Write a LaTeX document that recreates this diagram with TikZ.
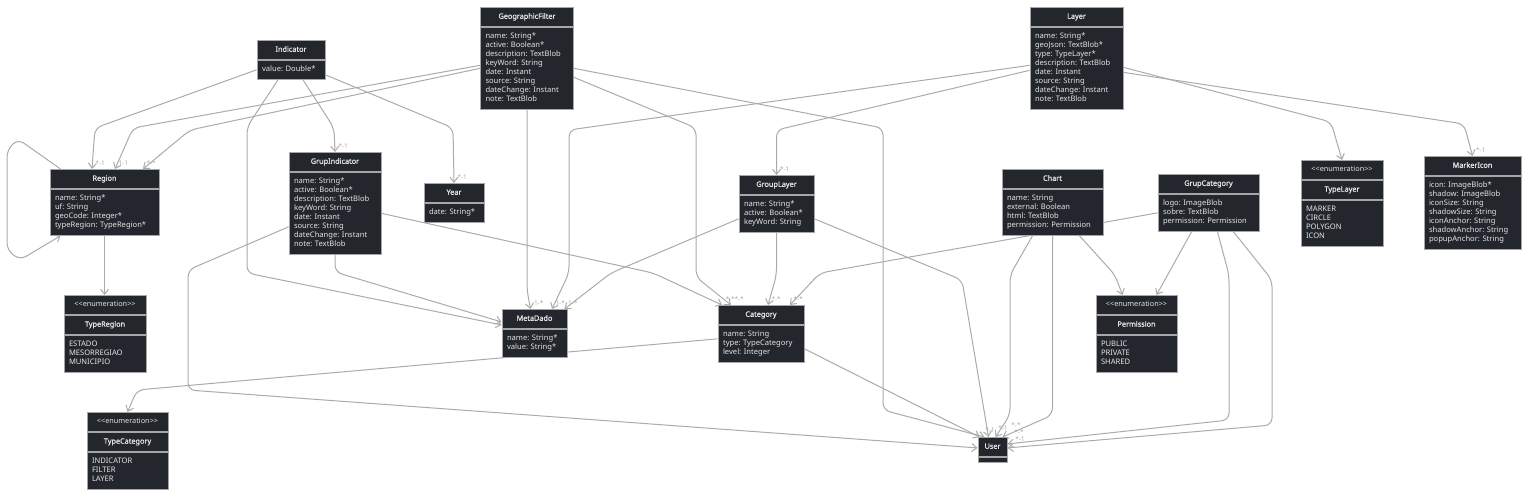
\documentclass[tikz,border=0pt]{standalone}
\usepackage{fontspec}
\setmainfont{Noto Sans}[AutoFakeBold=1.3]
\usetikzlibrary{arrows.meta, positioning, calc, backgrounds}
\definecolor{DiagramFill}{HTML}{23262D}
\definecolor{DiagramBorder}{HTML}{A6A6A6}
\definecolor{DiagramText}{HTML}{E4E4E4}
\definecolor{DiagramLine}{HTML}{ABABAB}
\frenchspacing
\tikzset{
    % class boxes - dark, sharp corners
    classhead/.style={
        rectangle,
        draw=DiagramBorder,
        fill=DiagramFill,
        text=DiagramText,
        line width=0.9pt,
        minimum height=19pt,
        inner sep=0pt,
        anchor=north,
        font=\fontsize{7.3}{9}\selectfont\bfseries
    },
    stereohead/.style={
        classhead,
        font=\fontsize{7.3}{9}\selectfont
    },
    classbody/.style={
        rectangle,
        draw=DiagramBorder,
        fill=DiagramFill,
        text=DiagramText,
        line width=0.9pt,
        inner xsep=5pt,
        inner ysep=5pt,
        anchor=north,
        align=left,
        font=\fontsize{7.6}{9}\selectfont
    },
    % connectors
    assoc/.style={
        -{Straight Barb[length=5pt,width=8pt]},
        draw=DiagramLine,
        line width=1pt,
        rounded corners=7pt
    },
    mult/.style={
        font=\fontsize{6.5}{7}\selectfont,
        text=DiagramLine,
        inner sep=0pt
    },
    multend/.style={
        mult,
        anchor=south west,
        xshift=3pt,
        yshift=3pt
    }
}
\begin{document}
\begin{tikzpicture}[x=1pt, y=-1pt]
    \path[use as bounding box] (0,0) rectangle (1528,494);

    % top row
    \node[classhead, minimum width=68pt] (Indicator) at (291,40) {\strut Indicator};
    \node[classbody, text width=58pt, below=0pt of Indicator] (Indicator-body) {\strut value: Double*\strut};

    \node[classhead, minimum width=93pt] (GeographicFilter) at (527,7) {\strut GeographicFilter};
    \node[classbody, text width=83pt, below=0pt of GeographicFilter] (GeographicFilter-body) {\strut name: String*\\active: Boolean*\\description: TextBlob\\keyWord: String\\date: Instant\\source: String\\dateChange: Instant\\note: TextBlob\strut};

    \node[classhead, minimum width=93pt] (Layer) at (1076.5,7) {\strut Layer};
    \node[classbody, text width=83pt, below=0pt of Layer] (Layer-body) {\strut name: String*\\geoJson: TextBlob*\\type: TypeLayer*\\description: TextBlob\\date: Instant\\source: String\\dateChange: Instant\\note: TextBlob\strut};

    % middle row
    \node[classhead, minimum width=109pt] (Region) at (104.5,169) {\strut Region};
    \node[classbody, text width=99pt, below=0pt of Region] (Region-body) {\strut name: String*\\uf: String\\geoCode: Integer*\\typeRegion: TypeRegion*\strut};

    \node[classhead, minimum width=92pt] (GrupIndicator) at (335,152) {\strut GrupIndicator};
    \node[classbody, text width=82pt, below=0pt of GrupIndicator] (GrupIndicator-body) {\strut name: String*\\active: Boolean*\\description: TextBlob\\keyWord: String\\date: Instant\\source: String\\dateChange: Instant\\note: TextBlob\strut};

    \node[classhead, minimum width=60pt] (Year) at (454,183) {\strut Year};
    \node[classbody, text width=50pt, below=0pt of Year] (Year-body) {\strut date: String*\strut};

    \node[classhead, minimum width=75pt] (GroupLayer) at (776.5,175) {\strut GroupLayer};
    \node[classbody, text width=65pt, below=0pt of GroupLayer] (GroupLayer-body) {\strut name: String*\\active: Boolean*\\keyWord: String\strut};

    \node[classhead, minimum width=101pt] (Chart) at (1052.5,169) {\strut Chart};
    \node[classbody, text width=91pt, below=0pt of Chart] (Chart-body) {\strut name: String\\external: Boolean\\html: TextBlob\\permission: Permission\strut};

    \node[classhead, minimum width=101pt] (GrupCategory) at (1208.5,174) {\strut GrupCategory};
    \node[classbody, text width=91pt, below=0pt of GrupCategory] (GrupCategory-body) {\strut logo: ImageBlob\\sobre: TextBlob\\permission: Permission\strut};

    \node[stereohead, minimum width=82pt] (TypeLayer) at (1342,160) {\strut <{}<enumeration>{}>};
    \node[classhead, minimum width=82pt, below=0pt of TypeLayer] (TypeLayer-name) {\strut TypeLayer};
    \node[classbody, text width=72pt, below=0pt of TypeLayer-name] (TypeLayer-body) {\strut MARKER\\CIRCLE\\POLYGON\\ICON\strut};

    \node[classhead, minimum width=97pt] (MarkerIcon) at (1472.5,156) {\strut MarkerIcon};
    \node[classbody, text width=87pt, below=0pt of MarkerIcon] (MarkerIcon-body) {\strut icon: ImageBlob*\\shadow: ImageBlob\\iconSize: String\\shadowSize: String\\iconAnchor: String\\shadowAnchor: String\\popupAnchor: String\strut};

    % lower row
    \node[stereohead, minimum width=82pt] (TypeRegion) at (105,295) {\strut <{}<enumeration>{}>};
    \node[classhead, minimum width=82pt, below=0pt of TypeRegion] (TypeRegion-name) {\strut TypeRegion};
    \node[classbody, text width=72pt, below=0pt of TypeRegion-name] (TypeRegion-body) {\strut ESTADO\\MESORREGIAO\\MUNICIPIO\strut};

    \node[classhead, minimum width=65pt] (MetaDado) at (534.5,309) {\strut MetaDado};
    \node[classbody, text width=55pt, below=0pt of MetaDado] (MetaDado-body) {\strut name: String*\\value: String*\strut};

    \node[classhead, minimum width=86pt] (Category) at (761,305) {\strut Category};
    \node[classbody, text width=76pt, below=0pt of Category] (Category-body) {\strut name: String\\type: TypeCategory\\level: Integer\strut};

    \node[stereohead, minimum width=81pt] (Permission) at (1136.5,295) {\strut <{}<enumeration>{}>};
    \node[classhead, minimum width=81pt, below=0pt of Permission] (Permission-name) {\strut Permission};
    \node[classbody, text width=71pt, below=0pt of Permission-name] (Permission-body) {\strut PUBLIC\\PRIVATE\\SHARED\strut};

    \node[stereohead, minimum width=81pt] (TypeCategory) at (127.5,412) {\strut <{}<enumeration>{}>};
    \node[classhead, minimum width=81pt, below=0pt of TypeCategory] (TypeCategory-name) {\strut TypeCategory};
    \node[classbody, text width=71pt, below=0pt of TypeCategory-name] (TypeCategory-body) {\strut INDICATOR\\FILTER\\LAYER\strut};

    \node[classhead, minimum width=29pt] (User) at (992.5,437) {\strut User};
    \node[classbody, minimum width=29pt, minimum height=5pt, inner sep=0pt, below=0pt of User] (User-body) {};

    \begin{scope}[on background layer]
        \fill[white] (0,0) rectangle (1528,494);

        % Region
        \draw[assoc] ([xshift=-44pt]Region.north) -- (18,139) -- (7,150) -- (7,250) -- (20,260) -- ([xshift=-44pt]Region-body.south);
        \draw[assoc] (Region-body.south) -- (Region-body.south |- TypeRegion.north);

        % Indicator
        \draw[assoc] (Indicator-body.west) -- (95,128) -- ([xshift=-12.5pt]Region.north) node[multend] (m-ind-reg) {*-1};
        \draw[assoc] ([xshift=12pt]Indicator-body.south) -- (334,128) -- (GrupIndicator.north) node[multend] (m-ind-grp) {*-1};
        \draw[assoc] ([yshift=-5pt]Indicator-body.east) -- (453,128) -- (Year.north) node[multend] (m-ind-year) {*-1};
        \draw[assoc] ([xshift=-13pt]Indicator-body.south) -- (247,127) -- (247,273) -- ([yshift=-6pt]MetaDado.west);

        % GeographicFilter
        \draw[assoc] ([yshift=3pt]GeographicFilter-body.west) -- (133,128) -- ([xshift=10.5pt]Region.north) node[multend] (m-geo-reg1) {1-1};
        \draw[assoc] (GeographicFilter-body.west) -- (190,130) -- ([xshift=38.5pt]Region.north) node[multend] (m-geo-reg2) {*-*};
        \draw[assoc] (GeographicFilter-body.south) -- (527,290) -- ([xshift=-4pt]MetaDado.north) node[multend] (m-geo-meta) {1-*};
        \draw[assoc] ([yshift=-9pt]GeographicFilter-body.east) -- (696,128) -- (696,277) -- ([xshift=-30pt]Category.north) node[multend] (m-geo-cat) {*-*};
        \draw[assoc] (GeographicFilter-body.east) -- (883,128) -- (883,410) -- ([xshift=-8pt]User.north);

        % Layer
        \draw[assoc] ([yshift=3pt]Layer-body.west) -- (569,130) -- (569,273) -- ([xshift=17.5pt]MetaDado.north) node[multend] (m-lay-meta) {1-*};
        \draw[assoc] ([yshift=-2pt]Layer-body.west) -- (776.5,130) -- (GroupLayer.north) node[multend] (m-lay-grp) {*-1};
        \draw[assoc] ([yshift=1pt]Layer-body.east) -- (1331,122) -- (TypeLayer.north);
        \draw[assoc] ([yshift=-4pt]Layer-body.east) -- (1464,124) -- (MarkerIcon.north) node[multend] (m-lay-mark) {*-1};

        % GrupIndicator
        \draw[assoc] (GrupIndicator-body.south) -- (335,272) -- ([yshift=-3pt]MetaDado.west);
        \draw[assoc] (GrupIndicator-body.east) -- (653,273) -- ([xshift=-39pt]Category.north) node[multend] (m-gi-cat) {*-*};
        \draw[assoc] ([yshift=-13.5pt]GrupIndicator-body.west) -- (188,270) -- (188,390) -- ([yshift=-1pt]User.west);

        % GroupLayer
        \draw[assoc] ([yshift=-5pt]GroupLayer-body.west) -- (611,273) -- ([xshift=30pt]MetaDado.north) node[multend] (m-gl-meta) {1-*};
        \draw[assoc] (GroupLayer-body.south) -- (776.5,275) -- ([xshift=7pt]Category.north) node[multend] (m-gl-cat) {*-*};
        \draw[assoc] ([yshift=-5pt]GroupLayer-body.east) -- (962,280) -- ([xshift=-4pt]User.north);

        % Category
        \draw[assoc] ([yshift=5pt]Category-body.west) -- (137,390) -- (TypeCategory.north);
        \draw[assoc] ([yshift=-5pt]Category-body.east) -- ([xshift=2pt]User.north west);

        % Chart
        \draw[assoc] ([xshift=27pt]Chart-body.south) -- (1115,275) -- ([xshift=-14pt]Permission.north);
        \draw[assoc] ([xshift=-20pt]Chart-body.south) -- (1010,275) -- (1010,415) -- ([xshift=3pt]User.north);
        \draw[assoc] (Chart-body.south) -- (1052.5,415) -- ([xshift=10pt]User.north);

        % GrupCategory
        \draw[assoc] (GrupCategory-body.west) -- (820,273) -- ([xshift=29pt]Category.north) node[multend] (m-gc-cat) {*-*};
        \draw[assoc] ([xshift=-17pt]GrupCategory-body.south) -- ([xshift=20pt]Permission.north);
        \draw[assoc] ([xshift=9pt]GrupCategory-body.south) -- (1229,275) -- (1229,420) -- ([yshift=3pt]User.east);
        \draw[assoc] ([xshift=25pt]GrupCategory-body.south) -- (1272,280) -- (1272,425) -- ([yshift=-1pt]User.east);
    \end{scope}

    % multiplicities at User
    \node[mult] (m-user1) at (990,430) {*-1};
    \node[mult] (m-user2) at (1003,428) {*-1};
    \node[mult] (m-user3) at (1016,425) {*-*};
    \node[mult] (m-user4) at (1019,432) {*-*};
    \node[mult] (m-user5) at (1020,439) {*-1};
\end{tikzpicture}
\end{document}
